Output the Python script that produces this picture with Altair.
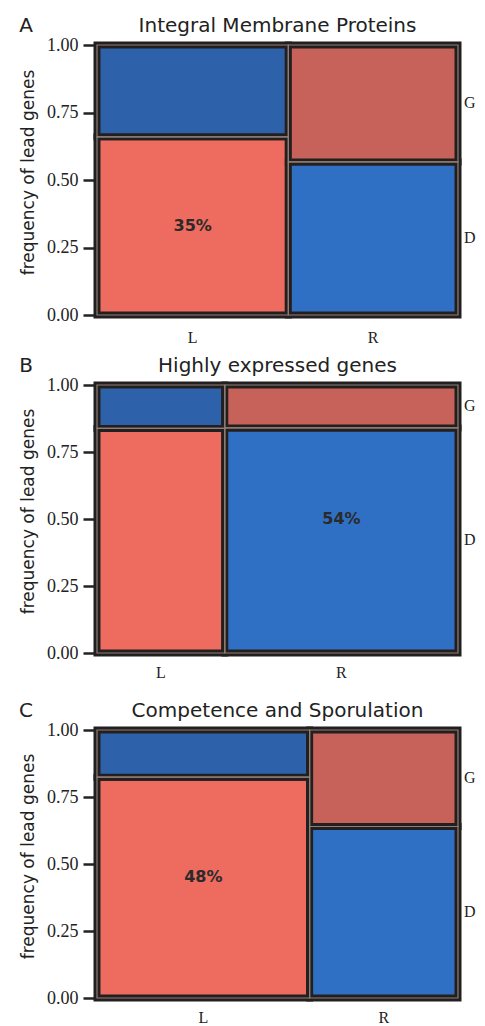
import altair as alt
import pandas as pd

# ---- data ----
panel_letters = ["A", "B", "C"]
panel_titles = ["Integral Membrane Proteins", "Highly expressed genes", "Competence and Sporulation"]
left_share = [0.53, 0.354, 0.589]      # width of the L column (share of lead genes on L)
left_d = [0.66, 0.838, 0.824]          # frequency of D within L
right_d = [0.567, 0.84, 0.64]          # frequency of D within R
pct_text = ["35%", "54%", "48%"]
pct_cell = ["LD", "RD", "LD"]
pct_y = [0.33, 0.5, 0.45]
columns = ["L", "R"]
rows = ["G", "D"]
y_ticks = [0.0, 0.25, 0.5, 0.75, 1.0]

cell_names = ["LD", "LG", "RD", "RG"]
cell_colors = ["#ee6b60", "#2d62ab", "#2f70c5", "#c7625a"]

# ---- layout / style ----
W = 361
heights = [270, 268, 268]
xlab_gap = [23, 20, 20]
SERIF = "Liberation Serif"
SANS = "DejaVu Sans"
INK = "#222222"


def panel(i):
    lw, ld, rd = left_share[i], left_d[i], right_d[i]
    cells = pd.DataFrame({
        "cell": ["LD", "LG", "RD", "RG"],
        "x": [0, 0, lw, lw],
        "x2": [lw, lw, 1, 1],
        "y": [0, ld, 0, rd],
        "y2": [ld, 1, rd, 1],
    })
    H = heights[i]
    xs = alt.Scale(domain=[0, 1])
    ys = alt.Scale(domain=[0, 1])
    base = alt.Chart(cells)
    fill = base.mark_rect(stroke="#231f1f", strokeWidth=7).encode(
        x=alt.X("x:Q", scale=xs, axis=None),
        x2="x2:Q",
        y=alt.Y("y:Q", scale=ys, axis=alt.Axis(
            values=y_ticks, format=".2f", tickSize=12, tickWidth=2.5, tickColor=INK,
            domain=False, grid=False, labelFont=SERIF, labelFontSize=18, labelColor=INK,
            labelPadding=5, offset=2, title="frequency of lead genes", titleFont=SANS,
            titleFontSize=17, titleFontWeight="normal", titleColor=INK, titlePadding=9,
            titleY=H / 2 - 8)),
        y2="y2:Q",
        color=alt.Color("cell:N", scale=alt.Scale(domain=cell_names, range=cell_colors), legend=None),
    )
    seams = base.mark_rect(filled=False, stroke="#8e7e78", strokeWidth=1.2).encode(
        x=alt.X("x:Q", scale=xs), x2="x2:Q", y=alt.Y("y:Q", scale=ys), y2="y2:Q"
    )
    colmid = pd.DataFrame({"lab": columns, "xm": [lw / 2, (1 + lw) / 2]})
    xlab = alt.Chart(colmid).mark_text(font=SERIF, fontSize=16, color=INK, baseline="middle").encode(
        x=alt.X("xm:Q", scale=xs), y=alt.value(H + xlab_gap[i]), text="lab:N"
    )
    rowmid = pd.DataFrame({"lab": rows, "ym": [(1 + rd) / 2, rd / 2]})
    rlab = alt.Chart(rowmid).mark_text(font=SERIF, fontSize=16, color=INK, align="left", baseline="middle").encode(
        x=alt.value(W + 6), y=alt.Y("ym:Q", scale=ys), text="lab:N"
    )
    c = pct_cell[i]
    px = lw / 2 if c.startswith("L") else (1 + lw) / 2
    pct = pd.DataFrame({"t": [pct_text[i]], "xm": [px], "ym": [pct_y[i]]})
    plab = alt.Chart(pct).mark_text(font=SANS, fontSize=16, fontWeight="bold", color="#2a2a2a").encode(
        x=alt.X("xm:Q", scale=xs), y=alt.Y("ym:Q", scale=ys), text="t:N"
    )
    heads = pd.DataFrame({"t": [panel_letters[i], panel_titles[i]], "kind": ["letter", "title"]})
    letter = alt.Chart(heads).transform_filter(alt.datum.kind == "letter").mark_text(
        font=SANS, fontSize=20, color=INK, align="center", baseline="alphabetic"
    ).encode(x=alt.value(-71), y=alt.value(-13), text="t:N")
    title = alt.Chart(heads).transform_filter(alt.datum.kind == "title").mark_text(
        font=SANS, fontSize=20, color=INK, align="center", baseline="alphabetic"
    ).encode(x=alt.value(W / 2), y=alt.value(-13), text="t:N")
    return alt.layer(fill, seams, xlab, rlab, plab, letter, title).properties(width=W, height=H)


top_two = alt.vconcat(panel(0), panel(1), spacing=10)
chart = alt.vconcat(top_two, panel(2), spacing=20).properties(
    padding={"left": 11, "top": 8, "right": 0, "bottom": 0}
).configure_view(stroke=None)

chart.save("out.html", embed_options={"renderer": "svg", "actions": False})
